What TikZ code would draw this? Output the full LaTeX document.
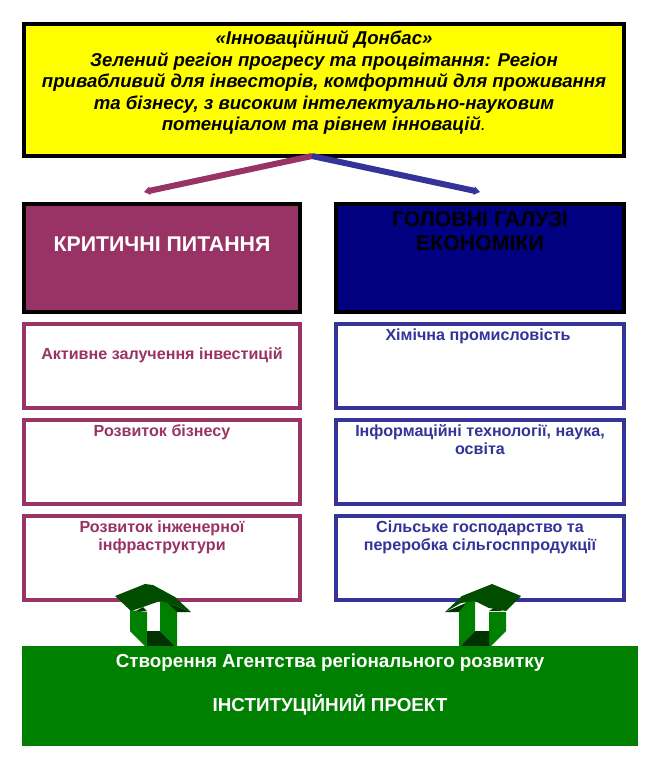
\documentclass[tikz,border=0pt]{standalone}
\usepackage{fontspec}
\setmainfont{Liberation Sans}
\usetikzlibrary{arrows.meta}
\definecolor{plum}{HTML}{993366}
\definecolor{indigoL}{HTML}{333399}
\definecolor{navyD}{HTML}{000080}
\definecolor{greenM}{HTML}{008000}
\definecolor{greenR}{HTML}{004D00}
\definecolor{greenD}{HTML}{003300}
\definecolor{brightY}{HTML}{FFFF00}
\tikzset{
  every node/.style={inner sep=0pt,outer sep=0pt},
  headbox/.style={draw=black,line width=4pt,minimum height=#1},
  leftsmall/.style={draw=plum,line width=3.6pt,minimum width=276pt,minimum height=84pt,fill=white},
  rightsmall/.style={draw=indigoL,line width=3.6pt,minimum width=288pt,minimum height=84pt,fill=white},
  smalltxt/.style={font=\bfseries\fontsize{16.1}{18}\selectfont,align=center},
  headtxt/.style={font=\bfseries\fontsize{21.3}{24}\selectfont,align=center},
  bartxt/.style={font=\bfseries\fontsize{18.8}{20}\selectfont,text=white},
  leftarrowline/.style={draw=plum,line width=6pt,-{Triangle[length=6pt,width=8pt]}},
  rightarrowline/.style={draw=indigoL,line width=6pt,-{Triangle[length=6pt,width=8pt]}},
}
\begin{document}
\begin{tikzpicture}[x=1pt,y=-1pt]
\useasboundingbox (0,0) rectangle (649,769);
\fill[white] (0,0) rectangle (649,769);
% top box
\node[headbox=132pt,fill=brightY,minimum width=600pt] (top) at (324,90) {};
\node[font=\bfseries\itshape\fontsize{18.6}{21.6}\selectfont,align=center,anchor=north] (toptxt) at (324,30.5)
 {«Інноваційний Донбас»\\Зелений регіон прогресу та процвітання: Регіон\\привабливий для інвесторів, комфортний для проживання\\та бізнесу, з високим інтелектуально-науковим\\потенціалом та рівнем інновацій\textmd{.}};
% head boxes
\node[headbox=108pt,fill=plum,minimum width=276pt] (crit) at (162,258) {};
\node[headbox=108pt,fill=navyD,minimum width=288pt] (gal) at (480,258) {};
\node[headtxt,text=white] (crittxt) at (162,244) {КРИТИЧНІ ПИТАННЯ};
\node[headtxt,text=black,anchor=north] (galtxt) at (480,212) {ГОЛОВНІ ГАЛУЗІ\\ЕКОНОМІКИ};
% connectors
\coordinate (apex) at (312,156);
\coordinate (lefttip) at (144,192);
\coordinate (righttip) at (480,192);
\draw[leftarrowline] (apex) -- (lefttip);
\draw[rightarrowline] (apex) -- (righttip);
% small boxes
\node[leftsmall] (l1) at (162,366) {};
\node[leftsmall] (l2) at (162,462) {};
\node[leftsmall] (l3) at (162,558) {};
\node[rightsmall] (r1) at (480,366) {};
\node[rightsmall] (r2) at (480,462) {};
\node[rightsmall] (r3) at (480,558) {};
\node[smalltxt,text=plum] (l1t) at (162,355) {Активне залучення інвестицій};
\node[smalltxt,text=plum,anchor=north] (l2t) at (162,425) {Розвиток бізнесу};
\node[smalltxt,text=plum,anchor=north] (l3t) at (162,521) {Розвиток інженерної\\інфраструктури};
\node[smalltxt,text=indigoL,anchor=north] (r1t) at (478,329) {Хімічна промисловість};
\node[smalltxt,text=indigoL,anchor=north] (r2t) at (480,425) {Інформаційні технології, наука,\\освіта};
\node[smalltxt,text=indigoL,anchor=north] (r3t) at (480,521) {Сільське господарство та\\переробка сільгосппродукції};
% left block arrow
\fill[greenM] (130,610) -- (147,612) -- (147,648) -- (130,631) -- cycle;
\fill[greenM] (160,601) -- (168,601) -- (177,612) -- (177,648) -- (160,631) -- cycle;
\fill[greenD] (147,631) -- (160,631) -- (177,648) -- (147,648) -- cycle;
\fill[greenD] (143,607) -- (147,611) -- (136,611) -- cycle;
\fill[greenD] (168,603) -- (191,612) -- (177,612) -- cycle;
\fill[greenR] (115,596) -- (145,584) -- (153,585) -- (175,597) -- (191,612) -- (168,603) -- (160,601) -- (143,607) -- (131,611) -- cycle;
% right block arrow
\fill[greenM] (475,601) -- (466,602) -- (459,612) -- (459,648) -- (475,631) -- cycle;
\fill[greenM] (489,612) -- (506,612) -- (506,631) -- (489,648) -- cycle;
\fill[greenD] (475,631) -- (489,631) -- (489,648) -- (459,648) -- cycle;
\fill[greenD] (445,612) -- (459,612) -- (466,603) -- cycle;
\fill[greenD] (489,611) -- (494,608) -- (503,611) -- cycle;
\fill[greenR] (445,612) -- (462,596) -- (492,584) -- (521,596) -- (506,611) -- (489,608) -- (475,601) -- (461,603) -- cycle;
% green bar
\node[fill=greenM,minimum width=616pt,minimum height=100pt] (bar) at (330,696) {};
\node[bartxt] (bar1) at (330,663) {Створення Агентства регіонального розвитку};
\node[bartxt] (bar2) at (330,705) {ІНСТИТУЦІЙНИЙ ПРОЕКТ};
\end{tikzpicture}
\end{document}
